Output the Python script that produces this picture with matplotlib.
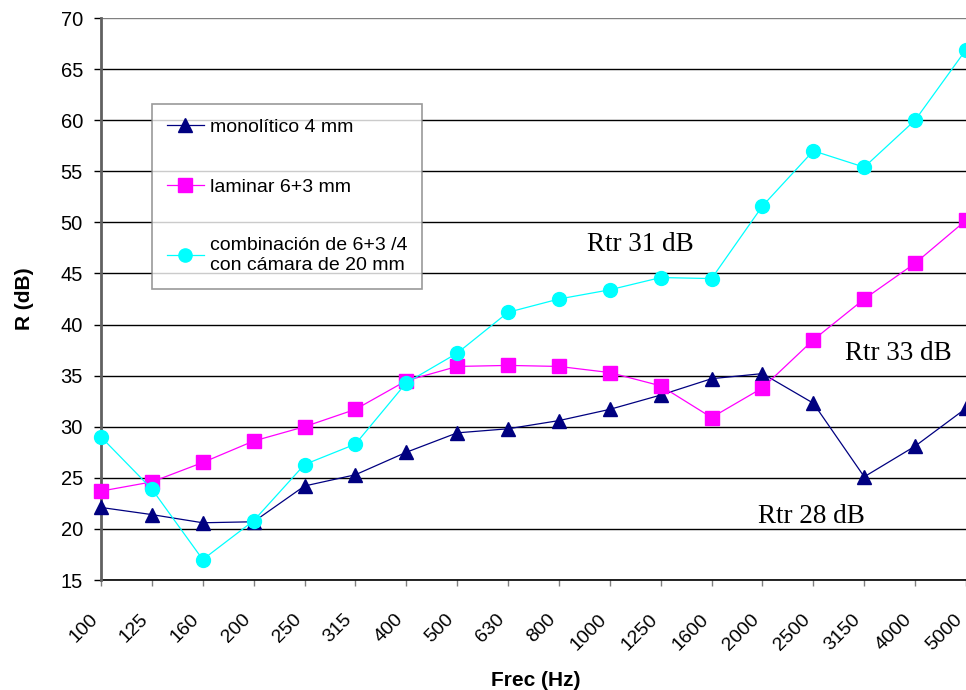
import matplotlib
matplotlib.use('Agg')
import matplotlib.pyplot as plt
import matplotlib.transforms as mtransforms

# Frequencies (Hz) on the category axis
frecuencias = ['100', '125', '160', '200', '250', '315', '400', '500', '630',
               '800', '1000', '1250', '1600', '2000', '2500', '3150', '4000', '5000']

# Sound reduction index R (dB)
monolitico = [22.1, 21.4, 20.6, 20.7, 24.2, 25.3, 27.5, 29.4, 29.8,
              30.6, 31.7, 33.1, 34.7, 35.2, 32.3, 25.1, 28.1, 31.8]
laminar = [23.7, 24.6, 26.5, 28.6, 30.0, 31.7, 34.5, 35.9, 36.0,
           35.9, 35.3, 34.0, 30.9, 33.8, 38.5, 42.5, 46.0, 50.2]
combinacion = [29.0, 23.9, 17.0, 20.8, 26.3, 28.3, 34.3, 37.2, 41.2,
               42.5, 43.4, 44.6, 44.5, 51.6, 57.0, 55.4, 60.0, 66.9]

series_labels = ['monolítico 4 mm', 'laminar 6+3 mm',
                 'combinación de 6+3 /4\ncon cámara de 20 mm']

# (category position, value, text) for the Rtr notes
notas_x = [10.6, 15.67, 13.96]
notas_y = [47.8, 37.2, 21.2]
notas_txt = ['Rtr 31 dB', 'Rtr 33 dB', 'Rtr 28 dB']

plt.rcParams['font.family'] = ['Liberation Sans', 'DejaVu Sans']

fig = plt.figure(figsize=(9.66, 6.9), dpi=100)
ax = fig.add_axes([101 / 966, 110 / 690, 865 / 966, 562 / 690])

x = list(range(len(frecuencias)))

# Grid lines
for v in range(15, 75, 5):
    ax.axhline(v, color='#808080' if v == 70 else 'black', linewidth=1.0, zorder=1)

ax.plot(x, monolitico, color='#000080', linewidth=0.9, marker='^', markersize=10,
        markeredgecolor='#000080', markerfacecolor='#000080',
        label=series_labels[0], clip_on=False, zorder=4)
ax.plot(x, laminar, color='#FF00FF', linewidth=0.9, marker='s', markersize=10,
        markeredgecolor='#FF00FF', markerfacecolor='#FF00FF',
        label=series_labels[1], clip_on=False, zorder=5)
ax.plot(x, combinacion, color='#00FFFF', linewidth=0.9, marker='o', markersize=10,
        markeredgecolor='#00FFFF', markerfacecolor='#00FFFF',
        label=series_labels[2], clip_on=False, zorder=6)

for nx, ny, nt in zip(notas_x, notas_y, notas_txt):
    ax.text(nx, ny, nt, ha='center', va='center', fontsize=19.5,
            family='Liberation Serif', color='black', zorder=7)

ax.set_xlim(0, 17)
ax.set_ylim(15, 70)
ax.set_yticks(range(15, 75, 5))
ax.set_xticks(x)
ax.set_xticklabels(frecuencias, rotation=45, ha='right', va='top')
offset = mtransforms.ScaledTranslation(-20 / 100, 0, fig.dpi_scale_trans)
for lbl in ax.get_xticklabels():
    lbl.set_transform(lbl.get_transform() + offset)

ax.tick_params(axis='x', direction='out', length=4.3, width=1, color='#808080',
               labelsize=14, pad=18)
ax.tick_params(axis='y', direction='out', length=5, width=1, color='black',
               labelsize=14.5, pad=8)

for side in ['top', 'right']:
    ax.spines[side].set_visible(False)
ax.spines['left'].set_color('#606060')
ax.spines['left'].set_linewidth(2)
ax.spines['left'].set_zorder(3)
ax.spines['bottom'].set_color('black')
ax.spines['bottom'].set_linewidth(1.2)

ax.set_xlabel('Frec (Hz)', fontsize=15, fontweight='bold')
ax.xaxis.set_label_coords(0.503, -0.162)
ax.set_ylabel('R (dB)', fontsize=15, fontweight='bold')
ax.yaxis.set_label_coords(-0.078, 0.5)

leg = ax.legend(loc='upper left', bbox_to_anchor=(0.059, 0.847), borderaxespad=0,
                fontsize=14, frameon=True, fancybox=False, shadow=False,
                labelspacing=2.15, handlelength=1.9, handletextpad=0.35,
                borderpad=0.75, markerscale=0.95)
leg.get_frame().set_edgecolor('#808080')
leg.get_frame().set_linewidth(1.2)
leg.set_zorder(8)

fig.savefig('out.png', dpi=100, facecolor='white')
